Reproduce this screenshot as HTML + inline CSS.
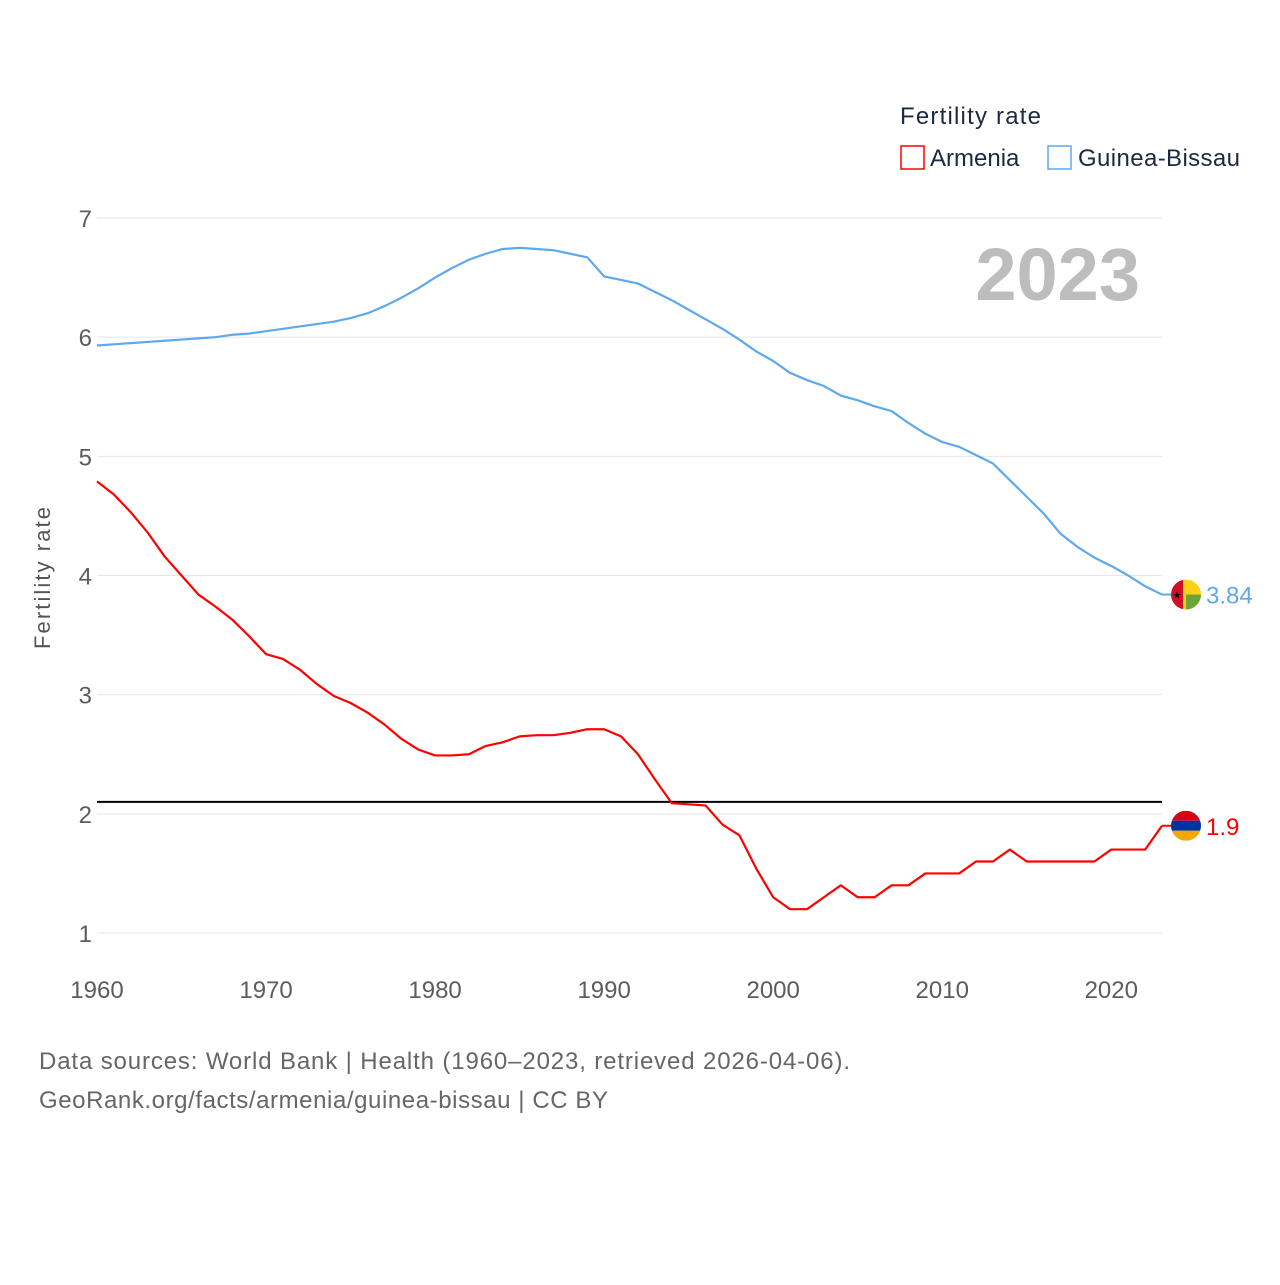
<!DOCTYPE html>
<html><head><meta charset="utf-8"><style>
body{margin:0;background:#fff;font-family:"Liberation Sans",sans-serif;}
svg text{font-family:"Liberation Sans",sans-serif;}
</style></head><body>
<svg id="chart" width="1280" height="1280" xmlns="http://www.w3.org/2000/svg">
<g id="grid"></g>
<g id="axes"></g>
<g id="series"></g>
<text x="1140" y="300" text-anchor="end" font-size="74" font-weight="bold" fill="#bdbdbd">2023</text>
<text transform="translate(50,578) rotate(-90)" text-anchor="middle" font-size="22" fill="#555" textLength="142" lengthAdjust="spacing">Fertility rate</text>
<g>
<text x="900" y="124" font-size="24" fill="#1a2a40" textLength="141" lengthAdjust="spacing">Fertility rate</text>
<rect x="901" y="146" width="23" height="23" fill="none" stroke="#ff0000" stroke-width="1.5"/>
<text x="930" y="166" font-size="24" fill="#1a2a40">Armenia</text>
<rect x="1048" y="146" width="23" height="23" fill="none" stroke="#5ea8ee" stroke-width="1.5"/>
<text x="1078" y="166" font-size="24" fill="#1a2a40" textLength="162" lengthAdjust="spacing">Guinea-Bissau</text>
</g>
<g>
<text x="39" y="1069" font-size="24" fill="#666" textLength="811" lengthAdjust="spacing">Data sources: World Bank | Health (1960–2023, retrieved 2026-04-06).</text>
<text x="39" y="1108" font-size="24" fill="#666" textLength="569" lengthAdjust="spacing">GeoRank.org/facts/armenia/guinea-bissau | CC BY</text>
</g>
</svg>
<script>
const years=[];for(let y=1960;y<=2023;y++)years.push(y);
const armenia=[4.79,4.68,4.53,4.36,4.16,4.00,3.84,3.74,3.63,3.49,3.34,3.30,3.21,3.09,2.99,2.93,2.85,2.75,2.63,2.54,2.49,2.49,2.50,2.57,2.60,2.65,2.66,2.66,2.68,2.71,2.71,2.65,2.50,2.29,2.09,2.08,2.07,1.91,1.82,1.54,1.30,1.20,1.20,1.30,1.40,1.30,1.30,1.40,1.40,1.50,1.50,1.50,1.60,1.60,1.70,1.60,1.60,1.60,1.60,1.60,1.70,1.70,1.70,1.90];
const guineaBissau=[5.93,5.94,5.95,5.96,5.97,5.98,5.99,6.00,6.02,6.03,6.05,6.07,6.09,6.11,6.13,6.16,6.20,6.26,6.33,6.41,6.50,6.58,6.65,6.70,6.74,6.75,6.74,6.73,6.70,6.67,6.51,6.48,6.45,6.38,6.31,6.23,6.15,6.07,5.98,5.88,5.80,5.70,5.64,5.59,5.51,5.47,5.42,5.38,5.28,5.19,5.12,5.08,5.01,4.94,4.80,4.66,4.52,4.35,4.24,4.15,4.08,4.00,3.91,3.84];
const yTicks=[1,2,3,4,5,6,7];
const xTicks=[1960,1970,1980,1990,2000,2010,2020];
const replacement=2.1;
const NS="http://www.w3.org/2000/svg";
const X=y=>97+(y-1960)*(1162-97)/63;
const Y=v=>218+(7-v)*(933-218)/6;
function mk(tag,attrs,parent){const e=document.createElementNS(NS,tag);for(const k in attrs)e.setAttribute(k,attrs[k]);parent.appendChild(e);return e;}
const grid=document.getElementById('grid'),axes=document.getElementById('axes'),series=document.getElementById('series');
yTicks.forEach(t=>{
 const l=mk('line',{x1:97,x2:1162,y1:Y(t),y2:Y(t),stroke:'#e6e6e6','stroke-width':1},grid);
 
 
 const tx=mk('text',{x:92,y:Y(t)+9,'text-anchor':'end','font-size':24,fill:'#5c5c5c'},axes);
 tx.textContent=t;
 
 
});
xTicks.forEach(t=>{
 const tx=mk('text',{x:X(t),y:998,'text-anchor':'middle','font-size':24,fill:'#5c5c5c'},axes);
 tx.textContent=t;
 
 
});
const rl=mk('line',{x1:97,x2:1162,y1:Y(replacement),y2:Y(replacement),stroke:'#000','stroke-width':2},series);


function line(vals,color,name){
 const p=mk('polyline',{points:vals.map((v,i)=>X(years[i])+','+Y(v)).join(' '),fill:'none',stroke:color,'stroke-width':2.2,'stroke-linejoin':'round'},series);
 
 
}
line(guineaBissau,'#5ea8ee','line-guinea-bissau');
line(armenia,'#ff0000','line-armenia');
const lastA=armenia[armenia.length-1],lastG=guineaBissau[guineaBissau.length-1];
const cx=1186;
const gb=mk('g',{},series);


const gy=Y(lastG);
mk('line',{x1:1162,x2:cx-15,y1:gy,y2:gy,stroke:'#5ea8ee','stroke-width':2},gb);
const cpg=mk('clipPath',{id:'cg'},gb);mk('circle',{cx:cx,cy:gy,r:15},cpg);
mk('rect',{x:cx-15,y:gy-15,width:30,height:30,fill:'#fcd116','clip-path':'url(#cg)'},gb);
mk('rect',{x:cx,y:gy,width:15,height:15,fill:'#6ba539','clip-path':'url(#cg)'},gb);
mk('rect',{x:cx-15,y:gy-15,width:12,height:30,fill:'#ce1126','clip-path':'url(#cg)'},gb);
mk('text',{x:cx-9,y:gy+4,'text-anchor':'middle','font-size':10,fill:'#000'},gb).textContent='★';
const tg=mk('text',{x:1206,y:gy+9,'font-size':24,fill:'#5ea8ee'},series);
tg.textContent=lastG;


const am=mk('g',{},series);


const ay=Y(lastA);
mk('line',{x1:1162,x2:cx-15,y1:ay,y2:ay,stroke:'#ff0000','stroke-width':2},am);
const cpa=mk('clipPath',{id:'ca'},am);mk('circle',{cx:cx,cy:ay,r:15},cpa);
mk('rect',{x:cx-15,y:ay-15,width:30,height:10,fill:'#d90012','clip-path':'url(#ca)'},am);
mk('rect',{x:cx-15,y:ay-5,width:30,height:10,fill:'#0033a0','clip-path':'url(#ca)'},am);
mk('rect',{x:cx-15,y:ay+5,width:30,height:10,fill:'#f2a800','clip-path':'url(#ca)'},am);
const ta=mk('text',{x:1206,y:ay+9,'font-size':24,fill:'#ff0000'},series);
ta.textContent=lastA;


</script>
</body></html>
